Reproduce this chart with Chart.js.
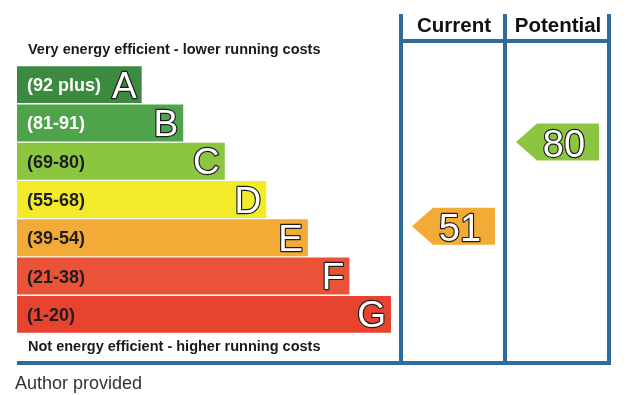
<!DOCTYPE html>
<html>
<head>
<meta charset="utf-8">
<script src="https://cdn.jsdelivr.net/npm/chart.js@4"></script>
<style>
html,body{margin:0;padding:0;background:#fff;}
#wrap{position:relative;width:644px;height:395px;}
</style>
</head>
<body>
<div id="wrap"><canvas id="c"></canvas></div>
<script>
// ---- data ----
const bands = ['A','B','C','D','E','F','G'];
const bandRanges = ['(92 plus)','(81-91)','(69-80)','(55-68)','(39-54)','(21-38)','(1-20)'];
const bandMin = [92,81,69,55,39,21,1];
const bandMax = [100,91,80,68,54,38,20];
const barLengths = [3,4,5,6,7,8,9];
const bandColors = ['#3b8a3f','#4fa34a','#8cc641','#f3ea2a','#f2ab36','#ea5338','#e8432f'];
const labelColors = ['#ffffff','#ffffff','#1e1e1e','#1e1e1e','#1e1e1e','#1e1e1e','#1e1e1e'];
const columnTitles = ['Current','Potential'];
const ratings = [51,80];
const topText = 'Very energy efficient - lower running costs';
const bottomText = 'Not energy efficient - higher running costs';
const sourceText = 'Author provided';

const BLUE = '#2d6c9c';
const FONT = '"Liberation Sans", Arial, Helvetica, sans-serif';

function bandIndexFor(v){
  for(let i=0;i<bands.length;i++){ if(v>=bandMin[i] && v<=bandMax[i]) return i; }
  return bands.length-1;
}
function colorFor(v){ return bandColors[bandIndexFor(v)]; }

function outlined(ctx, text, x, y){
  ctx.lineJoin = 'round';
  ctx.lineWidth = 2.4;
  ctx.strokeStyle = '#1e1e1e';
  ctx.fillStyle = '#ffffff';
  ctx.strokeText(text, x, y);
  ctx.fillText(text, x, y);
}

const epcPlugin = {
  id:'epc',
  afterDatasetsDraw(chart){
    const ctx = chart.ctx;
    const xs = chart.scales.x, ys = chart.scales.y;
    const step = ys.getPixelForValue(1) - ys.getPixelForValue(0);
    const meta = chart.getDatasetMeta(0);
    ctx.save();
    // band labels and letters
    meta.data.forEach((bar,i)=>{
      const cy = bar.y;
      ctx.font = 'bold 18px ' + FONT;
      ctx.fillStyle = labelColors[i];
      ctx.textAlign = 'left';
      ctx.textBaseline = 'alphabetic';
      ctx.fillText(bandRanges[i], xs.left + 10, cy + 6.5);
      ctx.font = '37px ' + FONT;
      ctx.textAlign = 'right';
      outlined(ctx, bands[i], bar.x - 5, cy + 13);
    });
    // top / bottom texts
    ctx.textAlign = 'left';
    ctx.fillStyle = '#1a1a1a';
    ctx.font = 'bold 14.5px ' + FONT;
    ctx.fillText(topText, xs.left + 11, 53.5);
    ctx.fillText(bottomText, xs.left + 11, 351);
    // source
    ctx.fillStyle = '#333';
    ctx.font = '18px ' + FONT;
    ctx.fillText(sourceText, 15, 389);
    // columns
    const colX = [401,505,609];
    ctx.strokeStyle = BLUE;
    ctx.lineWidth = 4;
    ctx.beginPath();
    colX.forEach(x=>{ ctx.moveTo(x,14); ctx.lineTo(x,365); });
    ctx.moveTo(399,41); ctx.lineTo(611,41);
    ctx.moveTo(xs.left,363); ctx.lineTo(611,363);
    ctx.stroke();
    // headers
    ctx.fillStyle = '#111';
    ctx.font = 'bold 20.5px ' + FONT;
    ctx.textAlign = 'center';
    columnTitles.forEach((t,k)=>{
      const cx = (colX[k]+colX[k+1])/2 + 1;
      ctx.fillText(t, cx, 32);
    });
    // arrows
    const h = meta.data[0].height;
    ratings.forEach((v,k)=>{
      const bi = bandIndexFor(v);
      const frac = (v - bandMin[bi])/(bandMax[bi]-bandMin[bi]);
      const bottom = ys.getPixelForValue(bi) + step/2;
      const cy = bottom - frac*step;
      const tip = colX[k] + 11;
      const end = colX[k+1] - 10;
      const body = tip + 21;
      ctx.fillStyle = colorFor(v);
      ctx.beginPath();
      ctx.moveTo(tip, cy);
      ctx.lineTo(body, cy - h/2);
      ctx.lineTo(end, cy - h/2);
      ctx.lineTo(end, cy + h/2);
      ctx.lineTo(body, cy + h/2);
      ctx.closePath();
      ctx.fill();
      ctx.font = '38px ' + FONT;
      ctx.textAlign = 'center';
      outlined(ctx, String(v), (body+end)/2 - 4, cy + 14.5);
    });
    ctx.restore();
  }
};

new Chart(document.getElementById('c'), {
  type:'bar',
  data:{
    labels: bands,
    datasets:[{
      data: barLengths,
      backgroundColor: bandColors,
      borderWidth: 0,
      barPercentage: 0.965,
      categoryPercentage: 1.0
    }]
  },
  options:{
    indexAxis:'y',
    responsive:true,
    maintainAspectRatio:false,
    animation:false,
    layout:{ padding:{ left:17, right:253, top:65.5, bottom:61.5 } },
    plugins:{ legend:{display:false}, tooltip:{enabled:false} },
    scales:{
      x:{ display:false, min:0, max:9 },
      y:{ display:false }
    }
  },
  plugins:[epcPlugin]
});
</script>
</body>
</html>
